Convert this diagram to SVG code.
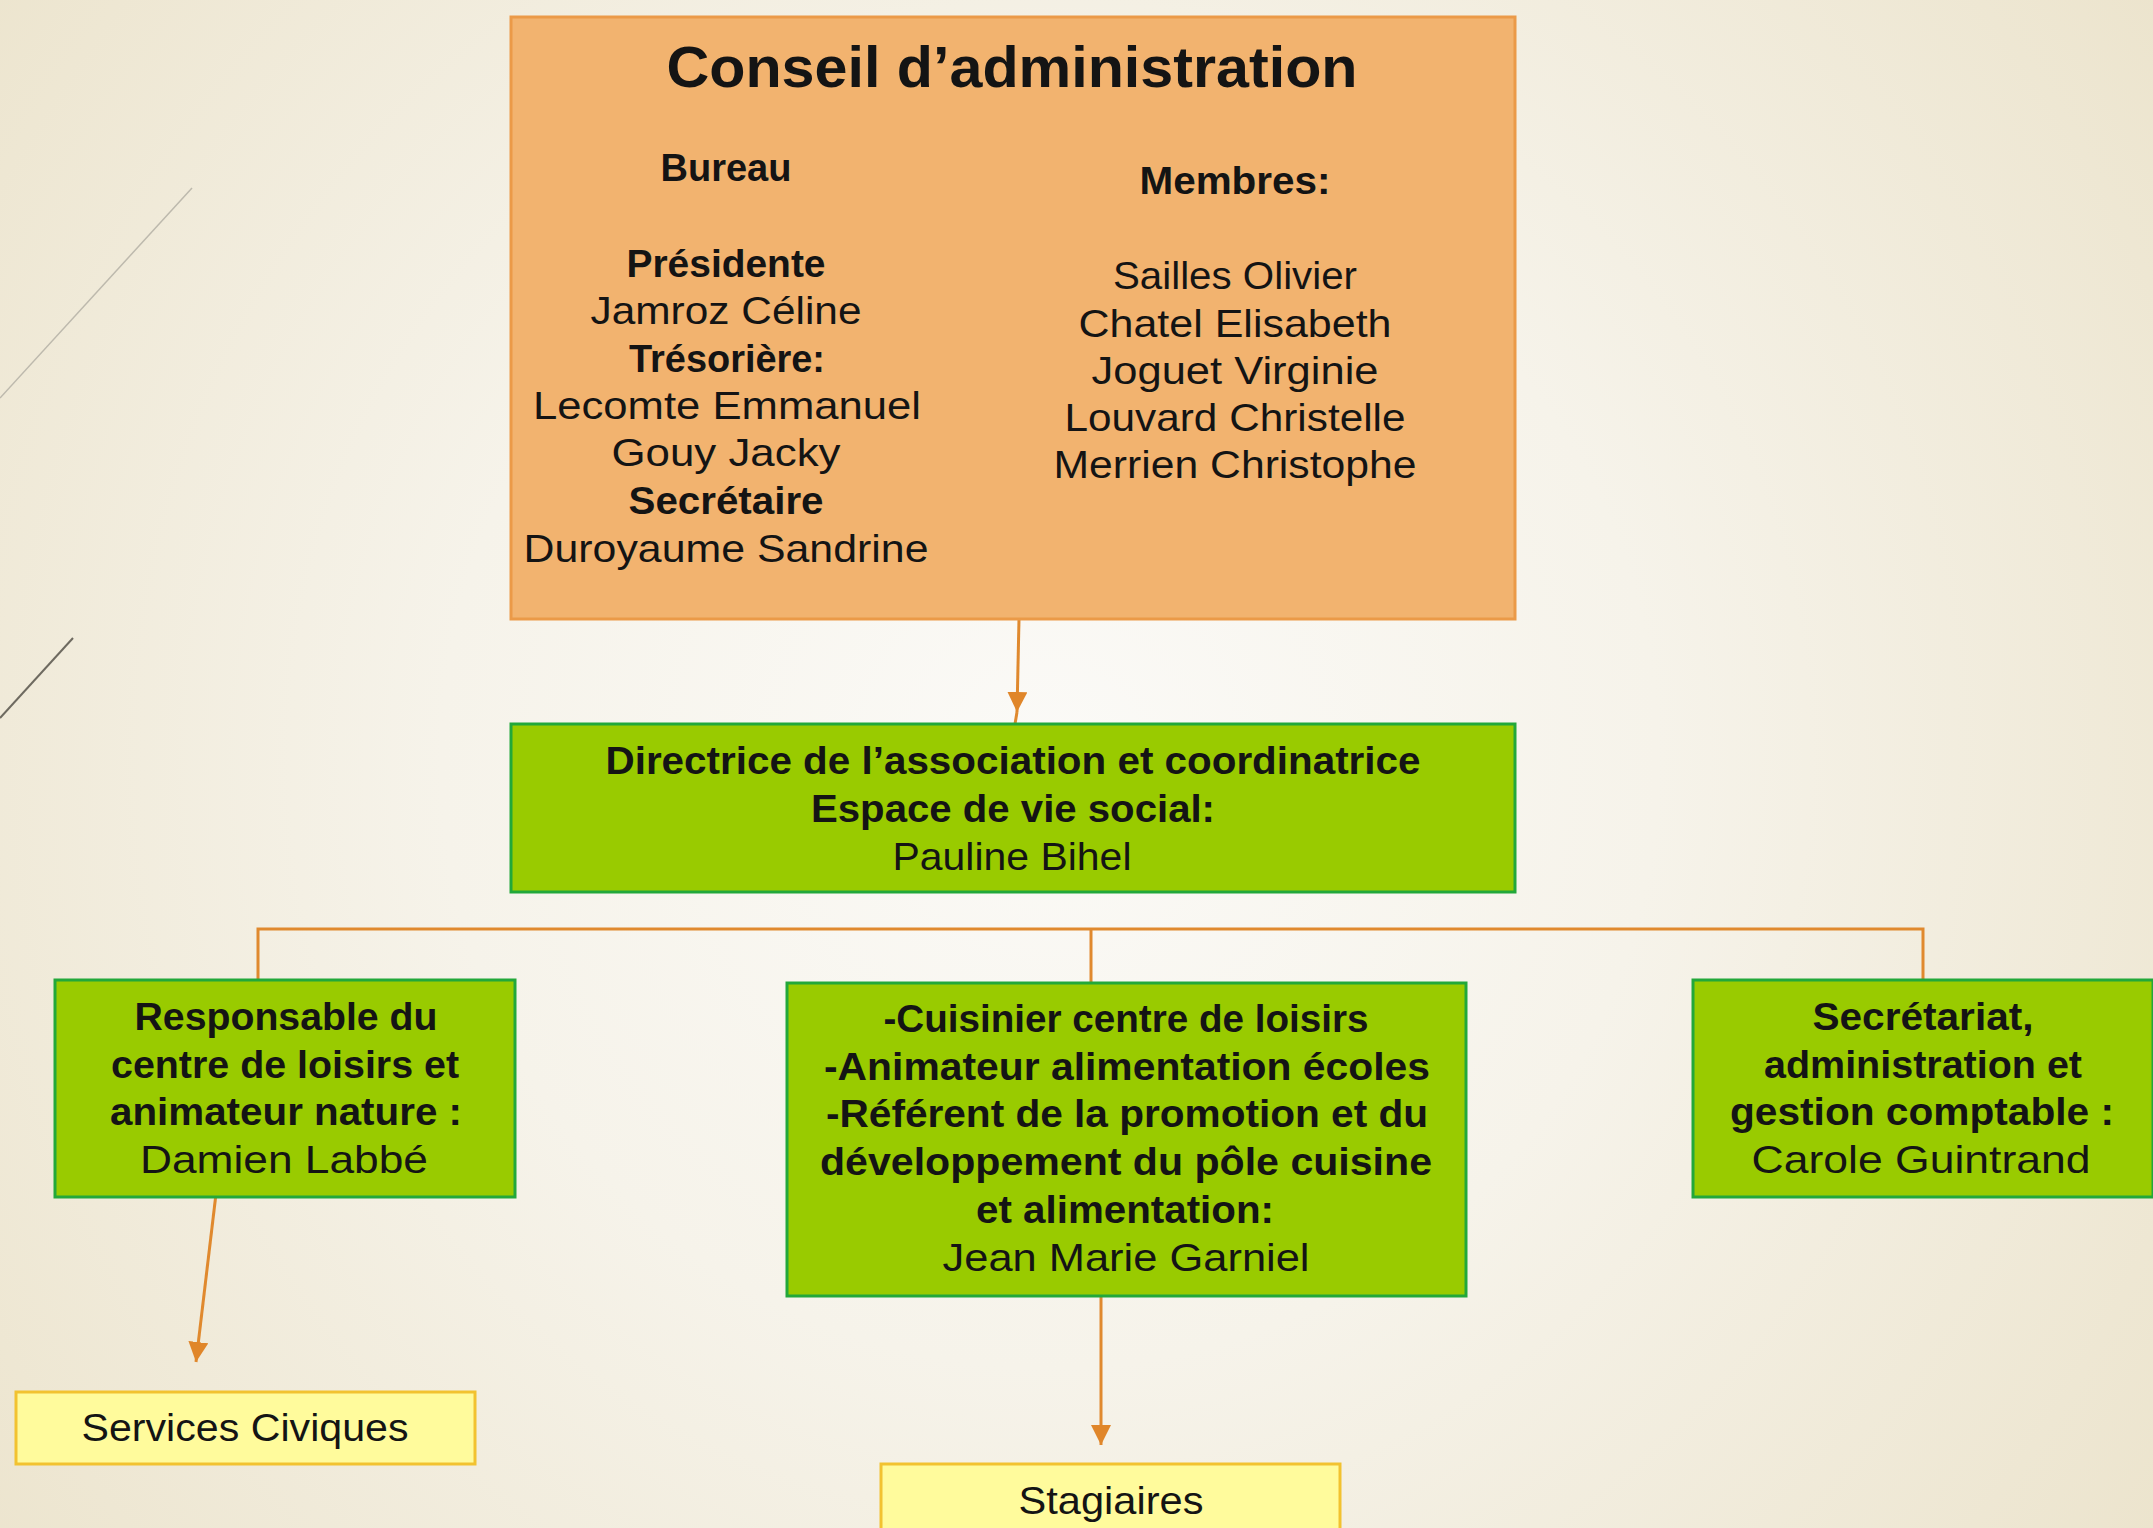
<svg xmlns="http://www.w3.org/2000/svg" width="2153" height="1528" viewBox="0 0 2153 1528">
<defs>
<radialGradient id="bg" cx="1050" cy="760" r="1350" gradientUnits="userSpaceOnUse">
<stop offset="0" stop-color="#FBFAF7"/>
<stop offset="0.45" stop-color="#F6F3EA"/>
<stop offset="1" stop-color="#ECE4CD"/>
</radialGradient>
<marker id="arr" viewBox="0 0 18 18" refX="18" refY="9" markerWidth="20" markerHeight="20" markerUnits="userSpaceOnUse" orient="auto">
<path d="M0,0 L18,9 L0,18 z" fill="#E0862A"/>
</marker>
<style>
.t{font-family:"Liberation Sans",Arial,sans-serif;fill:#141414;text-anchor:middle;font-size:39px}
.b{font-weight:bold}
.title{font-size:58px}
.con{stroke:#E0892E;stroke-width:3;fill:none}
.orange{fill:#F2B36F;stroke:#EB9A48;stroke-width:3}
.green{fill:#99CB00;stroke:#22A83A;stroke-width:3}
.yellow{fill:#FFFB9C;stroke:#F2C230;stroke-width:3}
</style>
</defs>
<rect x="0" y="0" width="2153" height="1528" fill="url(#bg)"/>
<line x1="0" y1="398" x2="192" y2="188" stroke="#BDB9AD" stroke-width="1.5"/>
<line x1="0" y1="718" x2="73" y2="638" stroke="#6E6A60" stroke-width="2"/>

<g id="connectors">
<line class="con" x1="1019" y1="619" x2="1017" y2="712" marker-end="url(#arr)"/>
<line class="con" x1="1017" y1="712" x2="1015" y2="724"/>
<polyline class="con" points="258,988 258,929 1923,929 1923,988"/>
<line class="con" x1="1091" y1="929" x2="1091" y2="985"/>
<line class="con" x1="218" y1="1177" x2="196" y2="1362" marker-end="url(#arr)"/>
<line class="con" x1="1101" y1="1297" x2="1101" y2="1445" marker-end="url(#arr)"/>
</g>

<g id="conseil">
<rect class="orange" x="511" y="17" width="1004" height="602"/>
<text class="t b title" x="1012" y="87" textLength="691" lengthAdjust="spacingAndGlyphs">Conseil d’administration</text>
<text class="t b" x="726" y="181" textLength="131" lengthAdjust="spacingAndGlyphs">Bureau</text>
<text class="t b" x="726" y="277" textLength="199" lengthAdjust="spacingAndGlyphs">Présidente</text>
<text class="t" x="726" y="324" textLength="271" lengthAdjust="spacingAndGlyphs">Jamroz Céline</text>
<text class="t b" x="727" y="372" textLength="196" lengthAdjust="spacingAndGlyphs">Trésorière:</text>
<text class="t" x="727" y="419" textLength="388" lengthAdjust="spacingAndGlyphs">Lecomte Emmanuel</text>
<text class="t" x="726" y="466" textLength="229" lengthAdjust="spacingAndGlyphs">Gouy Jacky</text>
<text class="t b" x="726" y="514" textLength="195" lengthAdjust="spacingAndGlyphs">Secrétaire</text>
<text class="t" x="726" y="562" textLength="405" lengthAdjust="spacingAndGlyphs">Duroyaume Sandrine</text>
<text class="t b" x="1235" y="194" textLength="191" lengthAdjust="spacingAndGlyphs">Membres:</text>
<text class="t" x="1235" y="289" textLength="244" lengthAdjust="spacingAndGlyphs">Sailles Olivier</text>
<text class="t" x="1235" y="337" textLength="313" lengthAdjust="spacingAndGlyphs">Chatel Elisabeth</text>
<text class="t" x="1235" y="384" textLength="287" lengthAdjust="spacingAndGlyphs">Joguet Virginie</text>
<text class="t" x="1235" y="431" textLength="341" lengthAdjust="spacingAndGlyphs">Louvard Christelle</text>
<text class="t" x="1235" y="478" textLength="363" lengthAdjust="spacingAndGlyphs">Merrien Christophe</text>
</g>

<g id="directrice">
<rect class="green" x="511" y="724" width="1004" height="168"/>
<text class="t b" x="1013" y="774" textLength="815" lengthAdjust="spacingAndGlyphs">Directrice de l’association et coordinatrice</text>
<text class="t b" x="1013" y="822" textLength="404" lengthAdjust="spacingAndGlyphs">Espace de vie social:</text>
<text class="t" x="1012" y="870" textLength="239" lengthAdjust="spacingAndGlyphs">Pauline Bihel</text>
</g>

<g id="responsable">
<rect class="green" x="55" y="980" width="460" height="217"/>
<text class="t b" x="286" y="1030" textLength="303" lengthAdjust="spacingAndGlyphs">Responsable du</text>
<text class="t b" x="285" y="1078" textLength="348" lengthAdjust="spacingAndGlyphs">centre de loisirs et</text>
<text class="t b" x="286" y="1125" textLength="352" lengthAdjust="spacingAndGlyphs">animateur nature :</text>
<text class="t" x="284" y="1173" textLength="288" lengthAdjust="spacingAndGlyphs">Damien Labbé</text>
</g>

<g id="cuisinier">
<rect class="green" x="787" y="983" width="679" height="313"/>
<text class="t b" x="1126" y="1032" textLength="485" lengthAdjust="spacingAndGlyphs">-Cuisinier centre de loisirs</text>
<text class="t b" x="1127" y="1080" textLength="606" lengthAdjust="spacingAndGlyphs">-Animateur alimentation écoles</text>
<text class="t b" x="1127" y="1127" textLength="602" lengthAdjust="spacingAndGlyphs">-Référent de la promotion et du</text>
<text class="t b" x="1126" y="1175" textLength="612" lengthAdjust="spacingAndGlyphs">développement du pôle cuisine</text>
<text class="t b" x="1125" y="1223" textLength="298" lengthAdjust="spacingAndGlyphs">et alimentation:</text>
<text class="t" x="1126" y="1271" textLength="367" lengthAdjust="spacingAndGlyphs">Jean Marie Garniel</text>
</g>

<g id="secretariat">
<rect class="green" x="1693" y="980" width="460" height="217"/>
<text class="t b" x="1923" y="1030" textLength="221" lengthAdjust="spacingAndGlyphs">Secrétariat,</text>
<text class="t b" x="1923" y="1078" textLength="318" lengthAdjust="spacingAndGlyphs">administration et</text>
<text class="t b" x="1922" y="1125" textLength="384" lengthAdjust="spacingAndGlyphs">gestion comptable :</text>
<text class="t" x="1921" y="1173" textLength="339" lengthAdjust="spacingAndGlyphs">Carole Guintrand</text>
</g>

<g id="services">
<rect class="yellow" x="16" y="1392" width="459" height="72"/>
<text class="t" x="245" y="1441" textLength="327" lengthAdjust="spacingAndGlyphs">Services Civiques</text>
</g>

<g id="stagiaires">
<rect class="yellow" x="881" y="1464" width="459" height="80"/>
<text class="t" x="1111" y="1514" textLength="185" lengthAdjust="spacingAndGlyphs">Stagiaires</text>
</g>
</svg>
